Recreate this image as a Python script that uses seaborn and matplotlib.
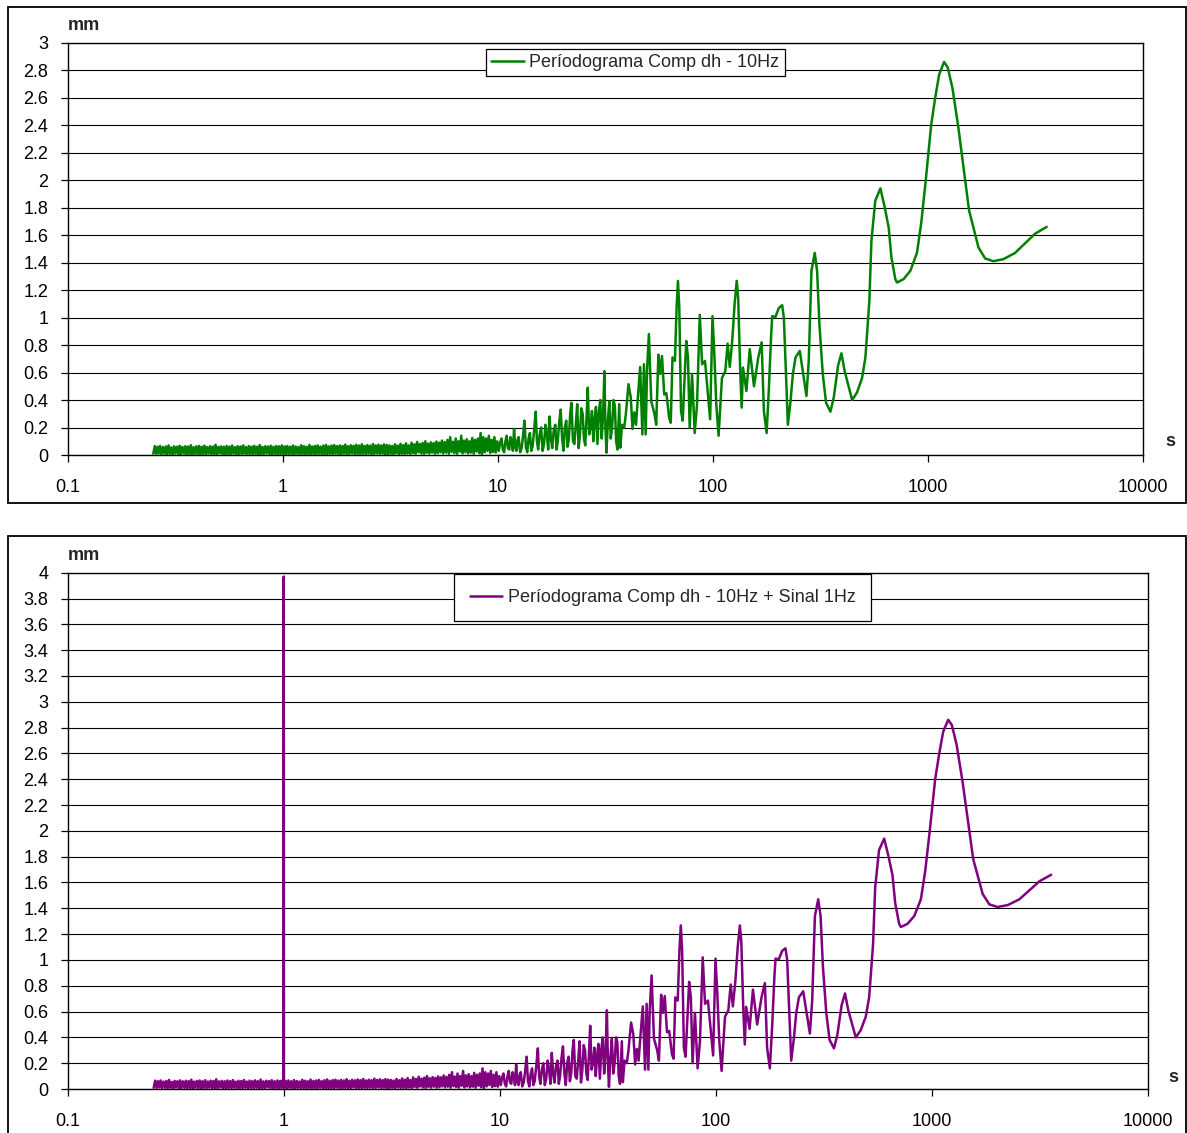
import numpy as np
import pandas as pd
import matplotlib
matplotlib.use("Agg")
import matplotlib.pyplot as plt
import seaborn as sns
from matplotlib.patches import Rectangle

# ---------------- data ----------------
# dense noise region, periods in s
period_noise = [
    0.25, 0.254, 0.258, 0.2615, 0.265, 0.269, 0.273, 0.2775, 0.282, 0.286,
    0.29, 0.2945, 0.299, 0.3035, 0.308, 0.3125, 0.317, 0.322, 0.327, 0.3315,
    0.336, 0.3415, 0.347, 0.352, 0.357, 0.3625, 0.368, 0.3735, 0.379, 0.3845,
    0.39, 0.396, 0.402, 0.408, 0.414, 0.42, 0.426, 0.4325, 0.439, 0.4455,
    0.452, 0.459, 0.466, 0.473, 0.48, 0.487, 0.494, 0.5015, 0.509, 0.5165,
    0.524, 0.532, 0.54, 0.548, 0.556, 0.5645, 0.573, 0.5815, 0.59, 0.599,
    0.608, 0.617, 0.626, 0.6355, 0.645, 0.6545, 0.664, 0.674, 0.684, 0.6945,
    0.705, 0.7155, 0.726, 0.737, 0.748, 0.759, 0.77, 0.7815, 0.793, 0.805,
    0.817, 0.8295, 0.842, 0.8545, 0.867, 0.88, 0.893, 0.9065, 0.92, 0.9335,
    0.947, 0.9615, 0.976, 0.99,
    1.005, 1.02, 1.035, 1.05, 1.066, 1.082, 1.098, 1.1145, 1.131, 1.148,
    1.165, 1.1825, 1.2, 1.218, 1.236, 1.2545, 1.273, 1.292, 1.311, 1.3305,
    1.35, 1.3705, 1.391, 1.4115, 1.432, 1.4535, 1.475, 1.4975, 1.52, 1.5425,
    1.565, 1.5885, 1.612, 1.6365, 1.661, 1.6855, 1.71, 1.7355, 1.761, 1.7875,
    1.814, 1.8415, 1.869, 1.897, 1.925, 1.954, 1.983, 2.0125, 2.042, 2.0725,
    2.103, 2.1345, 2.166, 2.1985, 2.231, 2.2645, 2.298, 2.3325, 2.367, 2.4025,
    2.438, 2.4745, 2.511, 2.549, 2.587, 2.6255, 2.664, 2.704, 2.744, 2.785,
    2.826, 2.8685, 2.911, 2.9545, 2.998, 3.043,
    3.088, 3.1345, 3.181, 3.2285, 3.276, 3.3255, 3.375, 3.4255, 3.476, 3.528,
    3.58, 3.634, 3.688, 3.743, 3.798, 3.855, 3.912, 3.971, 4.03, 4.09,
    4.15, 4.2125, 4.275, 4.339, 4.403, 4.469, 4.535, 4.603, 4.671, 4.741,
    4.811, 4.8835, 4.956, 5.0305, 5.105, 5.1815, 5.258, 5.3365, 5.415, 5.4965,
    5.578, 5.6615, 5.745, 5.831, 5.917, 6.006, 6.095, 6.1865, 6.278, 6.372,
    6.466, 6.563, 6.66, 6.76, 6.86, 6.963, 7.066, 7.172, 7.278, 7.387,
    7.496, 7.6085, 7.721, 7.8365, 7.952, 8.0715, 8.191, 8.314, 8.437, 8.5635,
    8.69, 8.82, 8.95, 9.085, 9.22, 9.36, 9.5, 9.64, 9.78, 9.94]
amp_noise = [
    0.01, 0.065, 0.008, 0.06, 0.012, 0.066, 0.005, 0.058, 0.01, 0.062,
    0.006, 0.07, 0.009, 0.055, 0.004, 0.063, 0.011, 0.06, 0.007, 0.067,
    0.005, 0.059, 0.01, 0.064, 0.006, 0.061, 0.008, 0.072, 0.004, 0.057,
    0.01, 0.063, 0.007, 0.066, 0.005, 0.06, 0.009, 0.068, 0.006, 0.058,
    0.011, 0.064, 0.005, 0.062, 0.008, 0.075, 0.006, 0.059, 0.012, 0.063,
    0.007, 0.06, 0.004, 0.066, 0.009, 0.061, 0.006, 0.069, 0.01, 0.057,
    0.005, 0.064, 0.008, 0.062, 0.006, 0.07, 0.011, 0.058, 0.004, 0.065,
    0.009, 0.061, 0.006, 0.067, 0.01, 0.06, 0.005, 0.073, 0.008, 0.059,
    0.006, 0.064, 0.012, 0.062, 0.007, 0.068, 0.005, 0.06, 0.009, 0.066,
    0.006, 0.063, 0.008, 0.07,
    0.007, 0.063, 0.005, 0.066, 0.009, 0.06, 0.006, 0.069, 0.004, 0.062,
    0.01, 0.058, 0.006, 0.071, 0.008, 0.064, 0.005, 0.06, 0.009, 0.073,
    0.006, 0.062, 0.008, 0.066, 0.005, 0.07, 0.01, 0.061, 0.006, 0.068,
    0.007, 0.074, 0.005, 0.063, 0.009, 0.069, 0.006, 0.072, 0.011, 0.065,
    0.007, 0.07, 0.005, 0.066, 0.01, 0.076, 0.006, 0.064, 0.008, 0.071,
    0.012, 0.067, 0.006, 0.074, 0.009, 0.069, 0.005, 0.078, 0.01, 0.066,
    0.007, 0.072, 0.011, 0.068, 0.006, 0.08, 0.009, 0.07, 0.012, 0.075,
    0.007, 0.069, 0.01, 0.077, 0.006, 0.073,
    0.006, 0.07, 0.01, 0.065, 0.005, 0.078, 0.012, 0.068, 0.007, 0.082,
    0.01, 0.072, 0.006, 0.085, 0.012, 0.07, 0.008, 0.09, 0.015, 0.078,
    0.01, 0.095, 0.02, 0.08, 0.012, 0.088, 0.009, 0.1, 0.016, 0.083,
    0.011, 0.092, 0.018, 0.086, 0.01, 0.098, 0.014, 0.09, 0.02, 0.105,
    0.012, 0.094, 0.018, 0.11, 0.01, 0.13, 0.022, 0.096, 0.015, 0.12,
    0.01, 0.1, 0.025, 0.14, 0.013, 0.105, 0.02, 0.115, 0.012, 0.1,
    0.018, 0.125, 0.01, 0.11, 0.025, 0.12, 0.014, 0.16, 0.008, 0.13,
    0.02, 0.12, 0.03, 0.14, 0.015, 0.11, 0.022, 0.13, 0.018, 0.1]

period_mid = [10.1, 10.25, 10.4, 10.55, 10.7, 10.85, 11.0, 11.15, 11.3, 11.45,
              11.6, 11.75, 11.9, 12.05, 12.2, 12.35, 12.5, 12.7, 12.9, 13.1,
              13.3, 13.5, 13.7, 13.9, 14.1, 14.3, 14.5, 14.75, 15.0, 15.2,
              15.4, 15.65, 15.9, 16.15, 16.4, 16.65, 16.9, 17.15, 17.4, 17.65,
              17.9, 18.2, 18.5, 18.75, 19.0, 19.3, 19.6, 19.9, 20.2, 20.5,
              20.8, 21.1, 21.4, 21.7, 22.0, 22.35, 22.7, 23.05, 23.4, 23.75,
              24.1, 24.45, 24.8, 25.15, 25.5, 25.85, 26.2, 26.6, 27.0, 27.4,
              27.8, 28.2, 28.6, 29.05, 29.5, 29.95, 30.4, 30.85, 31.3, 31.65,
              32.0, 32.5, 33.0, 33.5, 34.0, 34.5, 35.0, 35.5, 36.0]
amp_mid = [0.03, 0.09, 0.12, 0.04, 0.02, 0.1, 0.14, 0.05, 0.04, 0.13,
           0.1, 0.03, 0.19, 0.06, 0.03, 0.11, 0.13, 0.02, 0.05, 0.14,
           0.25, 0.06, 0.02, 0.12, 0.16, 0.03, 0.06, 0.18, 0.315, 0.1,
           0.04, 0.15, 0.2, 0.03, 0.08, 0.22, 0.15, 0.04, 0.28, 0.12,
           0.05, 0.18, 0.22, 0.04, 0.1, 0.24, 0.33, 0.12, 0.03, 0.2,
           0.25, 0.06, 0.12, 0.3, 0.38, 0.1, 0.08, 0.22, 0.37, 0.05,
           0.15, 0.34, 0.3, 0.12, 0.07, 0.27, 0.49, 0.15, 0.2, 0.32,
           0.1, 0.26, 0.35, 0.08, 0.31, 0.4, 0.12, 0.28, 0.61, 0.2,
           0.017, 0.25, 0.39, 0.12, 0.2, 0.4, 0.36, 0.1, 0.04]

period_high = [36.7, 37.1, 37.8, 38.7, 39.4, 40.5, 41.5, 42.3, 43.1, 43.9,
               44.8, 45.9, 47.0, 47.8, 48.7, 49.4, 50.4, 51.7, 53.5, 54.5,
               55.8, 56.8, 58.0, 59.4, 60.8, 62.6, 63.7, 64.9, 66.6, 67.8,
               68.8, 69.8, 71.1, 72.4, 73.8, 75.2, 76.6, 78.0, 80.0, 82.3,
               84.4, 86.9, 89.1, 91.9, 94.2, 97.1, 99.6, 101.5, 103.7, 106.3,
               108.2, 110.2, 114.2, 117.1, 119.8, 123.0, 126.2, 129.1, 131.1, 134.0,
               136.1, 138.0, 143.2, 148.4, 155.3, 162.6, 168.6, 172.6, 177.8, 182.2,
               186.7, 188.8, 195.5, 202.6, 210.0, 213.8, 219.2, 223.2, 229.6, 235.5,
               242.3, 253.6, 261.8, 272.3, 279.1, 287.3, 297.6, 305.2, 312.9, 324.3,
               336.0, 352.0, 365.0, 382.0, 396.0, 410.0, 425.0, 444.0, 468.0, 494.0,
               512.0, 534.0, 546.0, 569.0, 601.0, 630.0, 657.0, 676.0, 705.0, 718.0,
               771.0, 828.0, 889.0, 931.0, 977.0, 1035.0, 1081.0, 1128.0, 1189.0, 1236.0,
               1300.0, 1386.0, 1478.0, 1553.0, 1628.0, 1718.0, 1845.0, 2015.0, 2244.0, 2541.0,
               3147.0, 3564.0]
amp_high = [0.37, 0.053, 0.22, 0.2, 0.3, 0.515, 0.42, 0.19, 0.31, 0.22,
            0.42, 0.64, 0.15, 0.66, 0.15, 0.61, 0.88, 0.39, 0.3, 0.22,
            0.73, 0.59, 0.72, 0.44, 0.45, 0.27, 0.235, 0.71, 0.685, 1.07,
            1.267, 1.07, 0.32, 0.25, 0.54, 0.83, 0.71, 0.2, 0.59, 0.16,
            0.37, 1.02, 0.66, 0.685, 0.49, 0.26, 1.01, 0.745, 0.37, 0.14,
            0.345, 0.56, 0.61, 0.81, 0.64, 0.83, 1.1, 1.267, 1.145, 0.61,
            0.345, 0.636, 0.466, 0.77, 0.5, 0.71, 0.82, 0.32, 0.16, 0.49,
            0.88, 1.01, 1.005, 1.07, 1.09, 1.0, 0.54, 0.22, 0.39, 0.59,
            0.71, 0.757, 0.61, 0.43, 0.685, 1.34, 1.47, 1.34, 0.95, 0.59,
            0.38, 0.315, 0.42, 0.65, 0.74, 0.61, 0.515, 0.4, 0.455, 0.56,
            0.71, 1.12, 1.56, 1.85, 1.94, 1.8, 1.655, 1.44, 1.28, 1.255,
            1.28, 1.34, 1.47, 1.69, 2.0, 2.4, 2.6, 2.77, 2.86, 2.82,
            2.67, 2.38, 2.04, 1.78, 1.655, 1.51, 1.43, 1.41, 1.425, 1.47,
            1.61, 1.66]

# added 1 Hz signal (bottom chart only)
period_spike = [0.998, 1.0, 1.002]
amp_spike = [0.02, 3.97, 0.02]

assert len(period_noise) == len(amp_noise), (len(period_noise), len(amp_noise))
assert len(period_mid) == len(amp_mid), (len(period_mid), len(amp_mid))
assert len(period_high) == len(amp_high), (len(period_high), len(amp_high))

x_ticks = [0.1, 1, 10, 100, 1000, 10000]
x_tick_labels = ["0.1", "1", "10", "100", "1000", "10000"]
y_ticks_top = [0, 0.2, 0.4, 0.6, 0.8, 1, 1.2, 1.4, 1.6, 1.8, 2, 2.2, 2.4, 2.6, 2.8, 3]
y_labels_top = ["0", "0.2", "0.4", "0.6", "0.8", "1", "1.2", "1.4", "1.6", "1.8",
                "2", "2.2", "2.4", "2.6", "2.8", "3"]
y_ticks_bot = [0, 0.2, 0.4, 0.6, 0.8, 1, 1.2, 1.4, 1.6, 1.8, 2, 2.2, 2.4, 2.6, 2.8,
               3, 3.2, 3.4, 3.6, 3.8, 4]
y_labels_bot = ["0", "0.2", "0.4", "0.6", "0.8", "1", "1.2", "1.4", "1.6", "1.8",
                "2", "2.2", "2.4", "2.6", "2.8", "3", "3.2", "3.4", "3.6", "3.8", "4"]

label_top = "Períodograma Comp dh - 10Hz"
label_bot = "Períodograma Comp dh - 10Hz + Sinal 1Hz"

df_top = pd.DataFrame({
    "period": period_noise + period_mid + period_high,
    "amp": amp_noise + amp_mid + amp_high,
}).sort_values("period")
df_bot = pd.DataFrame({
    "period": period_noise + period_spike + period_mid + period_high,
    "amp": amp_noise + amp_spike + amp_mid + amp_high,
}).sort_values("period")

# ---------------- styling ----------------
sns.set_theme(style="white")
plt.rcParams["font.family"] = ["Liberation Sans", "DejaVu Sans"]
FS = 13

W, H = 1187, 1133
fig = plt.figure(figsize=(W / 100, H / 100), dpi=100)
fig.patch.set_facecolor("white")


def fx(px):
    return px / W


def fy(py):
    return 1 - py / H


# outer chart-area borders
fig.patches.append(Rectangle((fx(8), fy(502.5)), fx(1186) - fx(8), fy(7.5) - fy(502.5),
                             transform=fig.transFigure, fill=False, edgecolor="black",
                             linewidth=1.3))
fig.patches.append(Rectangle((fx(8), fy(1140)), fx(1186) - fx(8), fy(535.5) - fy(1140),
                             transform=fig.transFigure, fill=False, edgecolor="black",
                             linewidth=1.3))

ax1 = fig.add_axes([fx(67.7), fy(455), fx(1143) - fx(67.7), fy(42.7) - fy(455)])
ax2 = fig.add_axes([fx(67.7), fy(1089), fx(1148) - fx(67.7), fy(572.7) - fy(1089)])

panels = [
    (ax1, df_top, "#008000", label_top, y_ticks_top, y_labels_top, 3, (635.5, 62.5), 0.3, 42.7),
    (ax2, df_bot, "#800080", label_bot, y_ticks_bot, y_labels_bot, 4, (662.5, 597.5), 0.85, 572.7),
]

for ax, df, col, lab, yt, ytl, ymax, legc, bpad, ytop in panels:
    sns.lineplot(data=df, x="period", y="amp", ax=ax, color=col, linewidth=1.8,
                 estimator=None, sort=False, label=lab)
    ax.set_xscale("log")
    ax.set_xlim(0.1, 10000)
    ax.set_ylim(0, ymax)
    ax.set_xticks(x_ticks)
    ax.set_xticklabels(x_tick_labels)
    ax.xaxis.set_minor_locator(matplotlib.ticker.NullLocator())
    ax.set_yticks(yt)
    ax.set_yticklabels(ytl)
    ax.set_xlabel("")
    ax.set_ylabel("")
    ax.set_facecolor("white")
    ax.yaxis.grid(True, color="black", linewidth=0.8)
    ax.xaxis.grid(False)
    ax.set_axisbelow(True)
    for sp in ax.spines.values():
        sp.set_visible(True)
        sp.set_color("black")
        sp.set_linewidth(1.0)
    ax.tick_params(axis="y", which="major", direction="out", length=5, width=0.9,
                   color="black", left=True, pad=9, labelsize=FS, labelcolor="black")
    ax.tick_params(axis="x", which="major", direction="out", length=5, width=0.9,
                   color="black", bottom=True, pad=12, labelsize=FS, labelcolor="black")

    leg = ax.legend(loc="center", bbox_to_anchor=(fx(legc[0]), fy(legc[1])),
                    bbox_transform=fig.transFigure, frameon=True, fancybox=False,
                    edgecolor="black", framealpha=1, fontsize=FS, borderpad=bpad,
                    handlelength=1.8, handletextpad=0.3, borderaxespad=0)
    leg.get_frame().set_linewidth(0.9)
    for ln in leg.get_lines():
        ln.set_linewidth(1.8)

    fig.text(fx(68), fy(ytop - 17), "mm", fontsize=FS, fontweight="bold",
             ha="left", va="center")

fig.text(fx(1170), fy(442), "s", fontsize=FS, fontweight="bold", ha="center", va="center")
fig.text(fx(1173), fy(1077), "s", fontsize=FS, fontweight="bold", ha="center", va="center")

fig.savefig("out.png", dpi=100, facecolor="white")
